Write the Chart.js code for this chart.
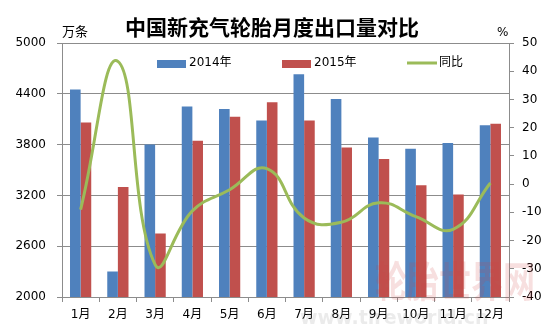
<!DOCTYPE html>
<html>
<head>
<meta charset="utf-8">
<script src="https://cdn.jsdelivr.net/npm/chart.js@4/dist/chart.umd.min.js"></script>
<style>
  html, body { margin: 0; padding: 0; background: #fff; }
  #wrap { width: 550px; height: 333px; }
</style>
</head>
<body>
<div id="wrap"><canvas id="tyreChart" width="550" height="333"></canvas></div>
<script>
const months = ['1月', '2月', '3月', '4月', '5月', '6月', '7月', '8月', '9月', '10月', '11月', '12月'];
const export2014 = [4450, 2300, 3800, 4250, 4220, 4085, 4630, 4340, 3885, 3750, 3820, 4030];
const export2015 = [4060, 3300, 2750, 3845, 4130, 4300, 4085, 3765, 3630, 3320, 3210, 4045];
const yoyPct = [-9, 43.5, -28.5, -9.5, -2, 5.5, -12, -13.5, -6.6, -11.5, -16, 0.4];

const FONT = 'DejaVu Sans, "Noto Sans CJK SC", sans-serif';
const AXIS_GREY = '#8c8c8c';

// title, units, in-plot legend and watermark
const decor = {
  id: 'decor',
  afterDraw(chart) {
    const ctx = chart.ctx;
    ctx.save();
    ctx.fillStyle = '#000';
    ctx.textBaseline = 'middle';
    ctx.font = 'bold 21px "Noto Sans CJK SC", sans-serif';
    ctx.textAlign = 'left';
    ctx.fillText('中国新充气轮胎月度出口量对比', 125, 27);

    ctx.font = '13px "Noto Sans CJK SC", sans-serif';
    ctx.fillText('万条', 62, 31);
    ctx.font = '12px ' + FONT;
    ctx.fillText('%', 497, 33);

    // legend entries
    const ds = chart.data.datasets;
    const entries = [
      { x: 157, ds: ds[1] },
      { x: 282, ds: ds[2] },
      { x: 407, ds: ds[0] }
    ];
    ctx.font = '12px ' + FONT;
    entries.forEach(e => {
      if (e.ds.type === 'line') {
        ctx.strokeStyle = e.ds.borderColor;
        ctx.lineWidth = 3;
        ctx.beginPath();
        ctx.moveTo(e.x, 63);
        ctx.lineTo(e.x + 30, 63);
        ctx.stroke();
      } else {
        ctx.fillStyle = e.ds.backgroundColor;
        ctx.fillRect(e.x, 60, 29, 8);
      }
      ctx.fillStyle = '#000';
      ctx.fillText(e.ds.label, e.x + 32, 63);
    });

    // faint site watermark
    ctx.globalAlpha = 0.17;
    ctx.fillStyle = '#d24040';
    ctx.font = 'bold 32px "Noto Sans CJK SC", sans-serif';
    ctx.save();
    ctx.translate(375, 281);
    ctx.scale(1, 1.3);
    ctx.fillText('轮胎世界网', 0, 0);
    ctx.restore();
    ctx.fillStyle = '#888';
    ctx.font = 'bold 19px ' + FONT;
    ctx.fillText('www.tireworld.cn', 300, 319);
    ctx.restore();
  }
};

const tickFont = { family: FONT, size: 12 };

new Chart(document.getElementById('tyreChart'), {
  data: {
    labels: months,
    datasets: [
      {
        type: 'line',
        label: '同比',
        data: yoyPct,
        yAxisID: 'y1',
        borderColor: '#9BBB59',
        borderWidth: 3,
        tension: 0.45,
        pointRadius: 0,
        fill: false,
        order: 0
      },
      {
        type: 'bar',
        label: '2014年',
        data: export2014,
        yAxisID: 'y',
        backgroundColor: '#4F81BD',
        categoryPercentage: 0.57,
        barPercentage: 1.0,
        order: 1
      },
      {
        type: 'bar',
        label: '2015年',
        data: export2015,
        yAxisID: 'y',
        backgroundColor: '#C0504D',
        categoryPercentage: 0.57,
        barPercentage: 1.0,
        order: 1
      }
    ]
  },
  options: {
    responsive: false,
    animation: false,
    layout: { padding: { top: 43, left: 0, right: 0, bottom: 0 } },
    plugins: {
      legend: { display: false },
      title: { display: false },
      tooltip: { enabled: false }
    },
    scales: {
      x: {
        offset: true,
        grid: {
          offset: true,
          drawOnChartArea: false,
          color: AXIS_GREY,
          tickLength: 5
        },
        border: { color: AXIS_GREY },
        ticks: { color: '#000', font: tickFont, padding: 6, maxRotation: 0, autoSkip: false },
        afterFit(scale) { scale.height = 36; }
      },
      y: {
        position: 'left',
        min: 2000,
        max: 5000,
        ticks: { stepSize: 600, color: '#000', font: tickFont, padding: 11, callback: v => String(v) },
        grid: { color: AXIS_GREY, tickLength: 5 },
        border: { color: AXIS_GREY },
        afterFit(scale) { scale.width = 62; }
      },
      y1: {
        position: 'right',
        min: -40,
        max: 50,
        ticks: { stepSize: 10, color: '#000', font: tickFont, padding: 8, callback: v => String(v) },
        grid: { drawOnChartArea: false, color: AXIS_GREY, tickLength: 5 },
        border: { color: AXIS_GREY },
        afterFit(scale) { scale.width = 41; }
      }
    }
  },
  plugins: [decor]
});
</script>
</body>
</html>
